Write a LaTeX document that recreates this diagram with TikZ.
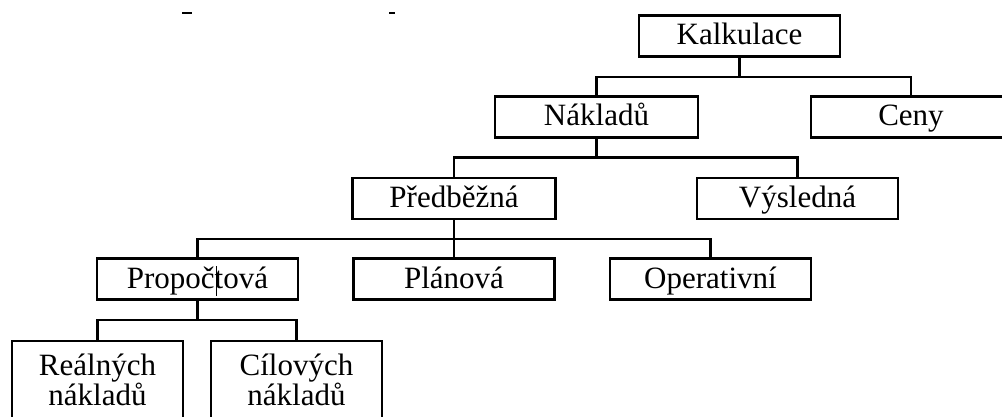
\documentclass[tikz,border=0pt]{standalone}
\usepackage{fontspec}
\setmainfont{Liberation Serif}
\begin{document}
\begin{tikzpicture}[x=1pt,y=-1pt,
  box/.style={draw,line width=2.6pt,rectangle,inner sep=0pt,minimum height=41pt,text height=23pt,text depth=5pt,font=\fontsize{31}{26}\selectfont},
  leafbox/.style={draw,line width=2.6pt,rectangle,inner sep=0pt,minimum width=171pt,minimum height=100pt},
  leaftext/.style={inner sep=0pt,align=center,font=\fontsize{31}{26}\selectfont},
  conn/.style={line width=2.4pt},
  smalltick/.style={line width=1.2pt}]
\useasboundingbox (0,0) rectangle (1002,417);
% boxes
\node[box,minimum width=201pt] (kalk) at (739.5,36) {Kalkulace};
\node[box,minimum width=203pt] (nakl) at (596.5,117) {Nákladů};
\node[box,minimum width=200pt] (ceny) at (911,117) {Ceny};
\node[box,minimum width=203pt] (pred) at (454,198.5) {Předběžná};
\node[box,minimum width=201pt] (vysl) at (797.5,198.5) {Výsledná};
\node[box,minimum width=201pt] (prop) at (197.5,279) {Propočtová};
\node[box,minimum width=201pt] (plan) at (454,279) {Plánová};
\node[box,minimum width=201pt] (oper) at (710.5,279) {Operativní};
\node[leafbox] (real) at (97.5,391) {};
\node[leafbox] (cil) at (296.5,391) {};
\node[leaftext] (realt) at (97.5,380) {Reálných\\nákladů};
\node[leaftext] (cilt) at (296.5,380) {Cílových\\nákladů};
% bus levels
\coordinate (b1) at (0,77);
\coordinate (b2) at (0,157.5);
\coordinate (b3) at (0,239);
\coordinate (b4) at (0,320);
% connectors
\draw[conn] (kalk.south) -- (kalk.south |- b1);
\draw[conn] (nakl.north) -- (nakl.north |- b1) -- (ceny.north |- b1) -- (ceny.north);
\draw[conn] (nakl.south) -- (nakl.south |- b2);
\draw[conn] (pred.north) -- (pred.north |- b2) -- (vysl.north |- b2) -- (vysl.north);
\draw[conn] (pred.south) -- (plan.north);
\draw[conn] (prop.north) -- (prop.north |- b3) -- (oper.north |- b3) -- (oper.north);
\draw[conn] (prop.south) -- (prop.south |- b4);
\draw[conn] (real.north) -- (real.north |- b4) -- (cil.north |- b4) -- (cil.north);
% small marks
\coordinate (m1a) at (182,13); \coordinate (m1b) at (192,13);
\coordinate (m2a) at (389,13); \coordinate (m2b) at (395,13);
\draw[smalltick] (m1a) -- (m1b);
\draw[smalltick] (m2a) -- (m2b);
\coordinate (cura) at (216,266); \coordinate (curb) at (216,296);
\draw[line width=1pt] (cura) -- (curb);
\end{tikzpicture}
\end{document}
